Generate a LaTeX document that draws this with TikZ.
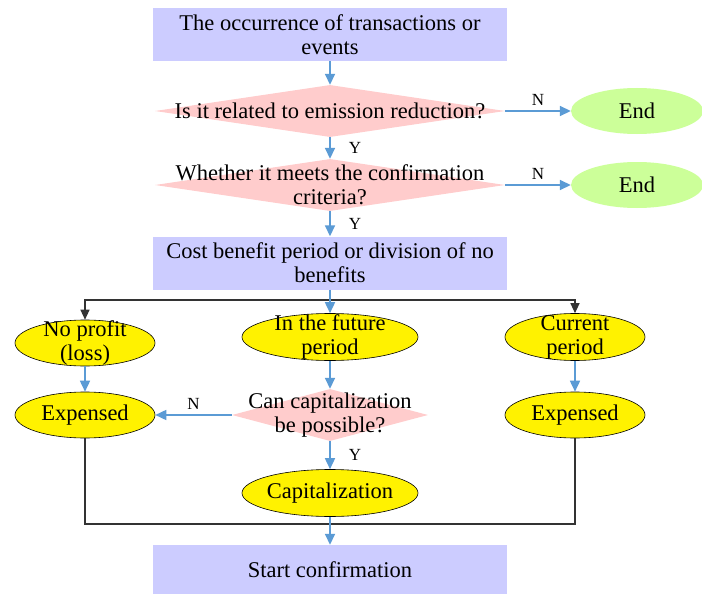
\documentclass[tikz,border=0pt]{standalone}
\usepackage{fontspec}
\setmainfont{Liberation Serif}
\usepackage{tikz}
\usetikzlibrary{arrows.meta,shapes.geometric}

\definecolor{boxlav}{HTML}{CCCCFF}
\definecolor{diapink}{HTML}{FFCCCC}
\definecolor{endgreen}{HTML}{CCFF99}
\definecolor{flowblue}{HTML}{5B9BD5}
\newcommand{\flowfont}{\fontsize{22.5}{24}\selectfont}
\newcommand{\tagfont}{\fontsize{17}{18}\selectfont}

\tikzset{
  txt/.style={font=\flowfont, align=center, inner sep=0pt},
  procbox/.style={rectangle, fill=boxlav, minimum width=354, minimum height=53, inner sep=0pt, font=\flowfont, align=center},
  decision/.style={diamond, fill=diapink, minimum width=350, minimum height=52, inner sep=0pt},
  endnode/.style={ellipse, fill=endgreen, minimum width=132, minimum height=46, inner sep=0pt},
  outcome/.style={ellipse, draw=black, line width=0.6pt, fill=yellow, minimum width=140, minimum height=46, inner sep=0pt},
  flow/.style={draw=flowblue, line width=1.6pt, -{Triangle[length=11pt,width=10pt]}},
  branch/.style={draw=black!80, line width=1.2pt},
  tag/.style={font=\tagfont, inner sep=2pt},
}

\begin{document}
\begin{tikzpicture}[x=1pt,y=-1pt]
\useasboundingbox[fill=white] (0,0) rectangle (702,594);

\node[procbox] (occur) at (330,34.5) {The occurrence of transactions or\\events};
\node[decision, label={[txt]center:Is it related to emission reduction?}] (relq) at (330,111) {};
\node[decision, label={[txt]center:Whether it meets the confirmation\\criteria?}] (critq) at (330,185) {};
\node[procbox] (period) at (330,263) {Cost benefit period or division of no\\benefits};
\node[endnode, label={[txt]center:End}] (end1) at (637,111) {};
\node[endnode, label={[txt]center:End}] (end2) at (637,185) {};

\node[outcome, label={[txt]center:No profit\\(loss)}] (noprofit) at (85,343) {};
\node[outcome, minimum width=176, minimum height=47, label={[txt]center:In the future\\period}] (future) at (330,337) {};
\node[outcome, minimum height=47, label={[txt]center:Current\\period}] (current) at (575,337) {};
\node[outcome, label={[txt]center:Expensed}] (expL) at (85,415) {};
\node[decision, minimum width=196, label={[txt]center:Can capitalization\\be possible?}] (capq) at (330,415) {};
\node[outcome, label={[txt]center:Expensed}] (expR) at (575,415) {};
\node[outcome, minimum width=176, minimum height=47, label={[txt]center:Capitalization}] (capit) at (330,493) {};
\node[procbox, minimum height=50] (confirm) at (330,570) {Start confirmation};

\coordinate (split) at (330,300);
\coordinate (merge) at (330,524);

\draw[flow] (occur) -- (relq);
\draw[flow] (relq) -- node[tag, right=16pt] {Y} (critq);
\draw[flow] (critq) -- node[tag, right=16pt] {Y} (period);
\draw[flow] (relq.east) -- node[tag, above=3pt] {N} (end1.west);
\draw[flow] (critq.east) -- node[tag, above=3pt] {N} (end2.west);

\draw[branch, -{Triangle[length=10pt,width=9pt]}] (split) -| (noprofit.north);
\draw[branch, -{Triangle[length=10pt,width=9pt]}] (split) -| (current.north);
\draw[flow] (period) -- (future);
\draw[flow] (noprofit) -- (expL);
\draw[flow] (current) -- (expR);
\draw[flow] (future) -- (capq);
\draw[flow] (capq.west) -- node[tag, above=3pt] {N} (expL.east);
\draw[flow] (capq) -- node[tag, right=16pt] {Y} (capit);

\draw[branch] (expL.south) |- (merge) -| (expR.south);
\draw[flow] (capit) -- (confirm);
\end{tikzpicture}
\end{document}
